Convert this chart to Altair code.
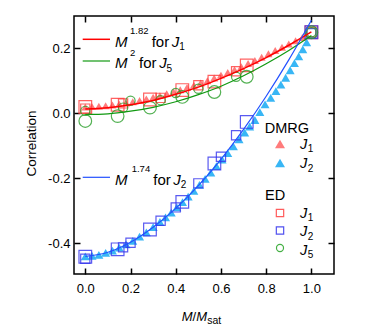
import altair as alt
import pandas as pd

FONT = "Liberation Sans"
W, H = 260, 258
XDOM = [-0.05, 1.1]
YDOM = [-0.494, 0.3]

# ---------------- data ----------------
# DMRG, J1 (salmon triangles)
dmrg_j1_m = [0.0, 0.03, 0.06, 0.09, 0.12, 0.15, 0.18, 0.21, 0.24, 0.27, 0.30, 0.33,
             0.36, 0.39, 0.42, 0.45, 0.48, 0.51, 0.54, 0.57, 0.60, 0.63, 0.66, 0.69,
             0.72, 0.75, 0.78, 0.81, 0.84, 0.87, 0.90, 0.93, 0.96]
dmrg_j1_c = [0.020, 0.021, 0.022, 0.024, 0.026, 0.029, 0.032, 0.036, 0.040, 0.045, 0.050, 0.055,
             0.061, 0.067, 0.073, 0.080, 0.087, 0.094, 0.101, 0.109, 0.118, 0.126, 0.135, 0.144,
             0.154, 0.163, 0.173, 0.184, 0.194, 0.204, 0.214, 0.224, 0.234]
# DMRG, J2 (sky-blue triangles)
dmrg_j2_m = [0.0, 0.03, 0.06, 0.09, 0.12, 0.15, 0.18, 0.21, 0.24, 0.27, 0.30, 0.33,
             0.355, 0.38, 0.405, 0.43, 0.455, 0.48, 0.505, 0.53, 0.555, 0.58, 0.605, 0.63,
             0.655, 0.68, 0.705, 0.727, 0.75, 0.772, 0.795, 0.82, 0.843, 0.865, 0.886,
             0.906, 0.925, 0.944, 0.962, 0.979]
dmrg_j2_c = [-0.440, -0.438, -0.435, -0.429, -0.422, -0.413, -0.403, -0.392, -0.379, -0.366, -0.350, -0.334,
             -0.320, -0.305, -0.289, -0.273, -0.256, -0.238, -0.220, -0.201, -0.182, -0.162, -0.142, -0.122,
             -0.101, -0.080, -0.059, -0.040, -0.020, 0.004, 0.028, 0.048, 0.069, 0.089, 0.110,
             0.133, 0.155, 0.176, 0.197, 0.219]

# ED, J1 (red squares); cluster A / B = two system sizes
ed_j1_m = [0.0, 0.143, 0.286, 0.429, 0.571, 0.714, 1.0,
           0.0, 0.167, 0.333, 0.5, 0.667, 1.0]
ed_j1_c = [0.020, 0.027, 0.043, 0.072, 0.098, 0.148, 0.250,
           0.015, 0.031, 0.048, 0.087, 0.130, 0.250]
ed_j1_n = ["A"] * 7 + ["B"] * 6
# ED, J2 (blue squares)
ed_j2_m = [0.0, 0.143, 0.286, 0.429, 0.571, 0.714, 1.0,
           0.0, 0.167, 0.2, 0.333, 0.4, 0.5, 0.6, 0.667, 1.0]
ed_j2_c = [-0.441, -0.418, -0.357, -0.272, -0.154, -0.026, 0.250,
           -0.447, -0.412, -0.398, -0.330, -0.289, -0.215, -0.133, -0.067, 0.247]
ed_j2_n = ["A"] * 7 + ["B"] * 9
# ED, J5 (green circles)
ed_j5_m = [0.0, 0.143, 0.286, 0.429, 0.571, 0.714, 1.0,
           0.0, 0.167, 0.2, 0.333, 0.4, 0.5, 0.667, 1.0]
ed_j5_c = [-0.023, -0.008, 0.018, 0.051, 0.066, 0.113, 0.250,
           0.008, 0.018, 0.039, 0.041, 0.063, 0.076, 0.113, 0.250]
ed_j5_n = ["A"] * 7 + ["B"] * 8

# fitted curves
fit_m = [0.0, 0.1, 0.2, 0.3, 0.4, 0.5, 0.6, 0.7, 0.8, 0.9, 1.0]
fit_j1 = [0.014, 0.018, 0.027, 0.040, 0.059, 0.081, 0.108, 0.138, 0.172, 0.210, 0.251]
fit_j5 = [-0.003, -0.001, 0.007, 0.019, 0.036, 0.058, 0.084, 0.116, 0.153, 0.194, 0.240]
fit_j2 = [-0.440, -0.427, -0.396, -0.350, -0.292, -0.222, -0.141, -0.049, 0.053, 0.165, 0.287]

x_ticks = [0.0, 0.2, 0.4, 0.6, 0.8, 1.0]
y_ticks = [-0.4, -0.2, 0.0, 0.2]

# ---------------- chart ----------------
xs = alt.Scale(domain=XDOM, nice=False, zero=False)
ys = alt.Scale(domain=YDOM, nice=False, zero=False)
LBL = "datum.value < 0 ? '-' + format(-datum.value, '.1f') : format(datum.value, '.1f')"

def frame(m, c):
    return pd.DataFrame({"M": m, "C": c})

def enc_xy(chart):
    return chart.encode(x=alt.X("M:Q", scale=xs, axis=None),
                        y=alt.Y("C:Q", scale=ys, axis=None))

red_tri = enc_xy(alt.Chart(frame(dmrg_j1_m, dmrg_j1_c)).mark_point(
    shape="triangle-up", filled=True, color="#ff7b7b", opacity=1, size=64))
blue_tri = enc_xy(alt.Chart(frame(dmrg_j2_m, dmrg_j2_c)).mark_point(
    shape="triangle-up", filled=True, color="#38b6f5", opacity=1, size=81))

def ed_layer(m, c, n, shape, color, sizes):
    df = pd.DataFrame({"M": m, "C": c, "N": n})
    return alt.Chart(df).mark_point(shape=shape, filled=False, color=color,
                                    strokeWidth=1.2, opacity=0.8).encode(
        x=alt.X("M:Q", scale=xs, axis=None),
        y=alt.Y("C:Q", scale=ys, axis=None),
        size=alt.Size("N:N", scale=alt.Scale(domain=["A", "B"], range=sizes), legend=None))

ed1 = ed_layer(ed_j1_m, ed_j1_c, ed_j1_n, "square", "#ff3c3c", [160, 85])
ed2 = ed_layer(ed_j2_m, ed_j2_c, ed_j2_n, "square", "#3232ee", [160, 85])
ed5 = ed_layer(ed_j5_m, ed_j5_c, ed_j5_n, "circle", "#2a9f2a", [190, 70])

def fit_line(c, color, sw):
    return enc_xy(alt.Chart(frame(fit_m, c)).mark_line(
        color=color, strokeWidth=sw, interpolate="monotone"))

l1 = fit_line(fit_j1, "#ff0000", 1.5)
l5 = fit_line(fit_j5, "#119911", 1.2)
l2 = fit_line(fit_j2, "#2250ff", 1.2)

def axis_layer(xaxis, yaxis):
    return alt.Chart(frame(fit_m, fit_j1)).mark_point(opacity=0).encode(
        x=alt.X("M:Q", scale=xs, axis=xaxis),
        y=alt.Y("C:Q", scale=ys, axis=yaxis))

lab_common = dict(labelExpr=LBL, ticks=False, tickSize=0, domain=False, grid=False,
                  labelFont=FONT, labelFontSize=13, labelColor="black", title=None,
                  labelFlush=False, labelOverlap=False)
tick_common = dict(labels=False, ticks=True, tickSize=6, tickWidth=1.5, tickColor="black",
                   domain=False, grid=False, title=None)

ax_main = axis_layer(alt.Axis(values=x_ticks, orient="bottom", labelPadding=8, **lab_common),
                     alt.Axis(values=y_ticks, orient="left", labelPadding=4, **lab_common))
ax_t1 = axis_layer(alt.Axis(values=x_ticks, orient="top", offset=-H, **tick_common),
                   alt.Axis(values=y_ticks, orient="right", offset=-W, **tick_common))
ax_t2 = axis_layer(alt.Axis(values=x_ticks, orient="bottom", offset=-H, **tick_common),
                   alt.Axis(values=y_ticks, orient="left", offset=-W, **tick_common))

ONE = alt.Data(values=[{}])

def txt(s, x, y, size=15, italic=False, angle=0, align="left", baseline="alphabetic"):
    kw = dict(text=s, align=align, baseline=baseline, fontSize=size, font=FONT,
              color="black", fontStyle="italic" if italic else "normal")
    if angle:
        kw["angle"] = angle
    return alt.Chart(ONE).mark_text(**kw).encode(x=alt.value(x), y=alt.value(y))

def seg(x1, x2, y, color, sw):
    return alt.Chart(ONE).mark_rule(color=color, strokeWidth=sw).encode(
        x=alt.value(x1), x2=alt.value(x2), y=alt.value(y))

def sym(x, y, shape, color, filled, size):
    return alt.Chart(ONE).mark_point(shape=shape, color=color, filled=filled, size=size,
                                     opacity=1, strokeWidth=1.2).encode(
        x=alt.value(x), y=alt.value(y))

ann = [
    # fit legends
    seg(8.7, 36, 23.3, "#ff0000", 1.5),
    txt("M", 41, 30.7, italic=True), txt("1.82", 56, 17.5, size=9.5),
    txt("for", 77.7, 30.7), txt("J", 97.7, 30.7, italic=True), txt("1", 105.3, 34, size=10),
    seg(8.7, 36, 45, "#119911", 1.2),
    txt("M", 41, 52.3, italic=True), txt("2", 56, 39.5, size=9.5),
    txt("for", 65, 52.3), txt("J", 85.3, 52.3, italic=True), txt("5", 92.5, 55.6, size=10),
    seg(8.7, 36, 161.3, "#2250ff", 1.2),
    txt("M", 41, 169, italic=True), txt("1.74", 57.7, 156, size=9.5),
    txt("for", 79.3, 169), txt("J", 99.3, 169, italic=True), txt("2", 106.7, 172.3, size=10),
    # DMRG legend
    txt("DMRG", 190.7, 117, size=14.5),
    sym(206, 128, "triangle-up", "#ff7b7b", True, 100),
    txt("J", 226, 132.7, size=14.5, italic=True), txt("1", 233.7, 136, size=10),
    sym(206, 147, "triangle-up", "#38b6f5", True, 100),
    txt("J", 226, 152, size=14.5, italic=True), txt("2", 233.7, 155.5, size=10),
    # ED legend
    txt("ED", 191, 183.7, size=14.5),
    sym(206, 197, "square", "#ff5c5c", False, 54),
    txt("J", 226, 202, size=14.5, italic=True), txt("1", 233.7, 205.3, size=10),
    sym(206, 214.5, "square", "#5252f0", False, 54),
    txt("J", 226, 220.3, size=14.5, italic=True), txt("2", 233.7, 223.6, size=10),
    sym(206, 232, "circle", "#44b044", False, 50),
    txt("J", 226, 238.7, size=14.5, italic=True), txt("5", 233.7, 242, size=10),
    # axis titles
    txt("Correlation", -42.3, 127.5, size=13.5, angle=270, align="center", baseline="middle"),
    txt("M", 107.7, 304.5, size=13, italic=True), txt("/", 118.6, 304.5, size=13),
    txt("M", 122.2, 304.5, size=13, italic=True), txt("sat", 133.2, 307.5, size=10.5),
]

chart = alt.layer(
    ax_main, ax_t1, ax_t2,
    red_tri, blue_tri, ed1, ed2, ed5, l1, l5, l2,
    *ann
).resolve_axis(x="independent", y="independent").properties(
    width=W, height=H,
    autosize=alt.AutoSizeParams(type="none"),
    padding={"left": 66, "top": 8, "right": 30, "bottom": 56},
    background="white",
).configure_view(stroke="black", strokeWidth=1.5)

chart.save("out.html", embed_options={"renderer": "svg", "actions": False})
